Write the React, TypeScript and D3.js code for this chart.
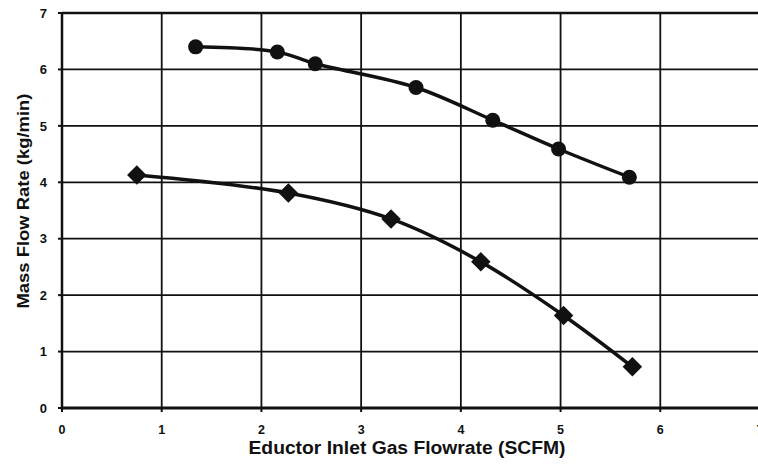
import React from "react";
import * as d3 from "d3";

// values
const circleX = [1.34, 2.16, 2.54, 3.55, 4.32, 4.98, 5.69];
const circleY = [6.4, 6.31, 6.1, 5.68, 5.1, 4.59, 4.09];
const diamondX = [0.75, 2.27, 3.3, 4.2, 5.03, 5.72];
const diamondY = [4.13, 3.81, 3.35, 2.59, 1.64, 0.73];
const xTicks = [0, 1, 2, 3, 4, 5, 6, 7];
const yTicks = [0, 1, 2, 3, 4, 5, 6, 7];

const W = 758;
const H = 467;
const font = "Arial, 'Liberation Sans', Helvetica, sans-serif";

const App = () => {
  const x = d3.scaleLinear().domain([0, 7]).range([62, 760]);
  const y = d3.scaleLinear().domain([0, 7]).range([408, 13]);

  const circles = circleX.map((v, i) => ({ x: v, y: circleY[i] }));
  const diamonds = diamondX.map((v, i) => ({ x: v, y: diamondY[i] }));

  const line = d3
    .line<{ x: number; y: number }>()
    .x((d) => x(d.x))
    .y((d) => y(d.y))
    .curve(d3.curveCatmullRom.alpha(0.5));

  const diamond = d3.symbol().type(d3.symbolSquare).size(190);

  return (
    <div>
      <style>{`body{margin:0;background:#fff}`}</style>
      <svg width={W} height={H} style={{ display: "block", fontFamily: font }}>
        <rect width={W} height={H} fill="#fff" />
        {/* grid */}
        {xTicks.slice(1).map((t) => (
          <line key={"gx" + t} x1={x(t)} x2={x(t)} y1={y(7)} y2={y(0)} stroke="#111" strokeWidth={1.8} />
        ))}
        {yTicks.slice(1).map((t) => (
          <line key={"gy" + t} x1={x(0)} x2={x(7)} y1={y(t)} y2={y(t)} stroke="#111" strokeWidth={t === 7 ? 2.5 : 1.8} />
        ))}
        {/* axes */}
        <line x1={x(0)} x2={x(0)} y1={y(7) - 1} y2={y(0) + 1.5} stroke="#111" strokeWidth={2.5} />
        <line x1={x(0) - 1} x2={x(7)} y1={y(0)} y2={y(0)} stroke="#111" strokeWidth={3} />
        {yTicks.map((t) => (
          <g key={"yt" + t}>
            <line x1={x(0) - 4} x2={x(0)} y1={y(t)} y2={y(t)} stroke="#111" strokeWidth={2} />
            <text x={47} y={y(t)} dy="0.36em" textAnchor="end" fontSize={13} fontWeight="bold" fill="#111">
              {t}
            </text>
          </g>
        ))}
        {xTicks.map((t) => (
          <g key={"xt" + t}>
            <line x1={x(t)} x2={x(t)} y1={y(0)} y2={y(0) + 4} stroke="#111" strokeWidth={2} />
            <text x={x(t)} y={429} dy="0.36em" textAnchor="middle" fontSize={12.5} fontWeight="bold" fill="#111">
              {t}
            </text>
          </g>
        ))}
        {/* series */}
        <path d={line(circles) || ""} fill="none" stroke="#111" strokeWidth={3.5} />
        <path d={line(diamonds) || ""} fill="none" stroke="#111" strokeWidth={3.5} />
        {circles.map((d, i) => (
          <circle key={"c" + i} cx={x(d.x)} cy={y(d.y)} r={7.5} fill="#111" />
        ))}
        {diamonds.map((d, i) => (
          <path key={"d" + i} d={diamond() || ""} transform={`translate(${x(d.x)},${y(d.y)}) rotate(45)`} fill="#111" />
        ))}
        {/* titles */}
        <text x={407} y={454} textAnchor="middle" fontSize={18} fontWeight="bold" fill="#111" textLength={317} lengthAdjust="spacingAndGlyphs">
          Eductor Inlet Gas Flowrate (SCFM)
        </text>
        <text
          transform="translate(29,201) rotate(-90)"
          textAnchor="middle"
          fontSize={17}
          fontWeight="bold"
          fill="#111"
          textLength={215}
          lengthAdjust="spacingAndGlyphs"
        >
          Mass Flow Rate (kg/min)
        </text>
      </svg>
    </div>
  );
};

export default App;
